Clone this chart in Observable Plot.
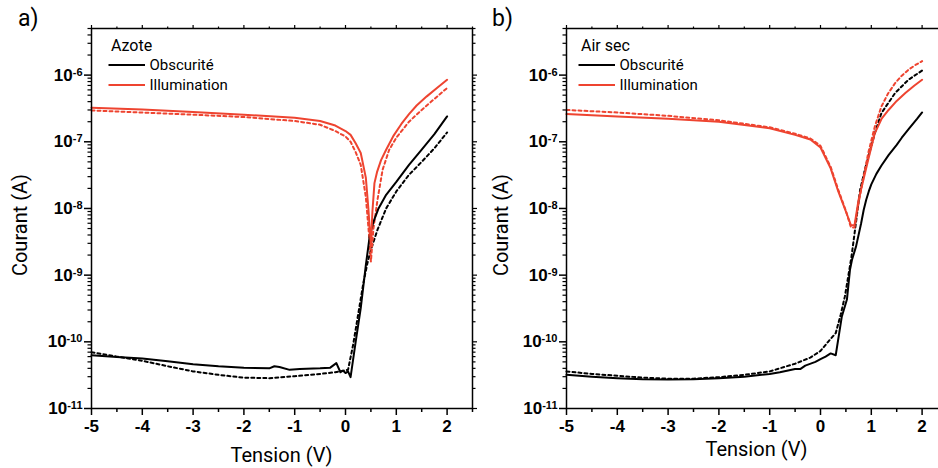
<!DOCTYPE html>
<html><head><meta charset="utf-8">
<script src="https://cdn.jsdelivr.net/npm/d3@7"></script>
<script src="https://cdn.jsdelivr.net/npm/@observablehq/plot@0.6"></script>
<style>
html,body{margin:0;padding:0;background:#fff;}
#wrap{position:relative;width:938px;height:468px;overflow:hidden;background:#fff;}
.panel{position:absolute;top:0;width:473px;height:468px;}
.panel svg{overflow:visible;max-width:none !important;}
</style></head>
<body><div id="wrap"></div>
<script>
// ---- tick values ----
const xMajor = [-5, -4, -3, -2, -1, 0, 1, 2];
const xMinor = [-4.5, -3.5, -2.5, -1.5, -0.5, 0.5, 1.5, 2.5];
const yMajor = [1e-11, 1e-10, 1e-9, 1e-8, 1e-7, 1e-6];
const yMinor = [];
for (let e = -11; e <= -6; e++) for (let k = 2; k <= 9; k++) { const v = k * Math.pow(10, e); if (v <= 5e-6) yMinor.push(v); }

// ---- panel a) Azote ----
const aDarkSolidV = [-5,-4.5,-4,-3.5,-3,-2.5,-2,-1.5,-1.4,-1.3,-1.1,-0.9,-0.5,-0.3,-0.18,-0.1,-0.05,0,0.05,0.1,0.2,0.3,0.4,0.48,0.55,0.65,0.8,1.0,1.25,1.5,1.75,2.0];
const aDarkSolidI = [6.3e-11,5.9e-11,5.6e-11,5.1e-11,4.6e-11,4.3e-11,4.1e-11,4.0e-11,4.3e-11,4.2e-11,3.8e-11,3.9e-11,4.0e-11,4.1e-11,4.8e-11,3.5e-11,3.7e-11,3.4e-11,3.6e-11,2.95e-11,1.0e-10,3.2e-10,1.4e-9,4.0e-9,6.3e-9,1.0e-8,1.6e-8,2.5e-8,4.5e-8,7.6e-8,1.3e-7,2.4e-7];
const aDarkDashV = [-5,-4.5,-4,-3.5,-3,-2.5,-2,-1.5,-1,-0.5,-0.2,0.05,0.15,0.25,0.35,0.43,0.5,0.63,0.8,1.0,1.25,1.5,1.75,2.0];
const aDarkDashI = [7e-11,6e-11,5.2e-11,4.3e-11,3.6e-11,3.2e-11,2.9e-11,2.85e-11,3.05e-11,3.3e-11,3.5e-11,3.8e-11,9e-11,2.6e-10,7.5e-10,1.5e-9,2.4e-9,4.8e-9,1e-8,1.8e-8,3.2e-8,5e-8,8e-8,1.38e-7];
const aLightSolidV = [-5,-4,-3,-2,-1,-0.5,-0.2,0,0.1,0.2,0.3,0.4,0.45,0.5,0.53,0.57,0.62,0.7,0.8,0.95,1.1,1.25,1.4,1.6,1.8,2.0];
const aLightSolidI = [3.25e-7,3.05e-7,2.8e-7,2.55e-7,2.3e-7,2.05e-7,1.75e-7,1.45e-7,1.27e-7,9.5e-8,6.8e-8,2.9e-8,1e-8,2.7e-9,9e-9,2.4e-8,3.5e-8,5.3e-8,7.6e-8,1.25e-7,1.85e-7,2.6e-7,3.5e-7,4.8e-7,6.4e-7,8.5e-7];
const aLightDashV = [-5,-4,-3,-2,-1,-0.5,-0.2,0,0.1,0.2,0.3,0.4,0.46,0.5,0.55,0.63,0.73,0.86,1.0,1.25,1.5,1.75,2.0];
const aLightDashI = [2.95e-7,2.75e-7,2.55e-7,2.35e-7,2.05e-7,1.8e-7,1.45e-7,1.2e-7,1e-7,7e-8,4.5e-8,1.5e-8,4.3e-9,1.6e-9,5e-9,1.35e-8,3.8e-8,7.6e-8,1.15e-7,2e-7,3e-7,4.4e-7,6.4e-7];

// ---- panel b) Air sec ----
const bDarkSolidV = [-5,-4.5,-4,-3.5,-3,-2.5,-2,-1.5,-1,-0.8,-0.5,-0.4,-0.3,-0.1,0,0.1,0.2,0.3,0.42,0.52,0.58,0.62,0.7,0.8,0.85,0.9,0.95,1.0,1.1,1.2,1.34,1.5,1.6,1.75,1.9,2.0];
const bDarkSolidI = [3.2e-11,3.0e-11,2.85e-11,2.75e-11,2.72e-11,2.75e-11,2.85e-11,3.0e-11,3.3e-11,3.5e-11,3.9e-11,3.9e-11,4.4e-11,5.0e-11,5.5e-11,6.0e-11,6.7e-11,6.3e-11,2.4e-10,4.3e-10,1.2e-9,1.7e-9,2.7e-9,6e-9,9.5e-9,1.35e-8,1.8e-8,2.3e-8,3.3e-8,4.4e-8,6.3e-8,9e-8,1.15e-7,1.6e-7,2.2e-7,2.75e-7];
const bDarkDashV = [-5,-4.5,-4,-3.5,-3,-2.5,-2,-1.5,-1,-0.5,-0.2,0,0.15,0.3,0.4,0.48,0.55,0.61,0.68,0.78,0.88,0.98,1.07,1.2,1.47,1.73,2.0];
const bDarkDashI = [3.6e-11,3.3e-11,3.1e-11,2.9e-11,2.8e-11,2.8e-11,2.95e-11,3.2e-11,3.6e-11,4.7e-11,5.8e-11,7.3e-11,1.0e-10,1.35e-10,2.6e-10,4.8e-10,1e-9,1.9e-9,4.8e-9,1.9e-8,4e-8,7.6e-8,1.35e-7,2.7e-7,5.4e-7,8.5e-7,1.17e-6];
const bLightSolidV = [-5,-4,-3,-2,-1,-0.5,-0.2,0,0.2,0.35,0.5,0.6,0.67,0.75,0.81,0.94,1.07,1.2,1.34,1.5,1.67,1.85,2.0];
const bLightSolidI = [2.6e-7,2.4e-7,2.22e-7,2.0e-7,1.6e-7,1.27e-7,1.08e-7,8.2e-8,4e-8,1.8e-8,9e-9,5.6e-9,5.6e-9,1.35e-8,2.1e-8,5.4e-8,1.35e-7,2.2e-7,3e-7,4.1e-7,5.4e-7,7e-7,8.5e-7];
const bLightDashV = [-5,-4,-3,-2,-1,-0.5,-0.2,0,0.2,0.35,0.5,0.6,0.67,0.75,0.81,0.94,1.07,1.2,1.33,1.47,1.6,1.73,1.87,2.0];
const bLightDashI = [3e-7,2.75e-7,2.45e-7,2.1e-7,1.65e-7,1.32e-7,1.12e-7,8.7e-8,4.2e-8,1.9e-8,9.2e-9,5.2e-9,5.2e-9,1.2e-8,2.1e-8,6.8e-8,1.7e-7,3.4e-7,5.3e-7,7.6e-7,9.8e-7,1.2e-6,1.42e-6,1.62e-6];

const legendLabels = ["Obscurité", "Illumination"];
const RED = "#ee4430";
const BLACK = "#000000";

function rows(V, I) { return V.map((v, i) => ({V: v, I: I[i]})); }

function makePanel(cfg) {
  const series = [
    {d: rows(cfg.ds[0], cfg.ds[1]), c: BLACK, dash: "3,3"},
    {d: rows(cfg.ls[0], cfg.ls[1]), c: RED, dash: "3,3"},
    {d: rows(cfg.dk[0], cfg.dk[1]), c: BLACK, dash: null},
    {d: rows(cfg.lt[0], cfg.lt[1]), c: RED, dash: null}
  ];
  const blank = () => "";
  const fmtY = d => "10^" + Math.round(Math.log10(d));
  const plot = Plot.plot({
    width: 473, height: 468,
    marginLeft: 91, marginRight: 1, marginTop: 28, marginBottom: 60,
    style: {fontFamily: "'Liberation Sans', Arial, sans-serif", color: "#000", background: "transparent", overflow: "visible"},
    x: {domain: [-5, 2.5], label: null},
    y: {type: "log", domain: [1e-11, 5e-6], label: null},
    marks: [
      Plot.axisX(xMinor, {anchor: "bottom", tickSize: 4, tickFormat: blank, label: null, strokeWidth: 1.5}),
      Plot.axisX(xMajor, {anchor: "bottom", tickSize: 7, tickPadding: 4, tickFormat: d => String(d), label: null, strokeWidth: 1.5, fontSize: 17, fontWeight: "bold"}),
      Plot.axisX(xMinor, {anchor: "top", tickSize: 2.5, tickFormat: blank, label: null, strokeWidth: 1.2}),
      Plot.axisX(xMajor, {anchor: "top", tickSize: 4, tickFormat: blank, label: null, strokeWidth: 1.2}),
      Plot.axisY(yMinor, {anchor: "left", tickSize: 3.5, tickFormat: blank, label: null, strokeWidth: 1.2}),
      Plot.axisY(yMajor, {anchor: "left", tickSize: 7, tickPadding: 2, tickFormat: fmtY, label: null, strokeWidth: 1.5, fontSize: 17, fontWeight: "bold"}),
      Plot.axisY(yMinor, {anchor: "right", tickSize: 2.5, tickFormat: blank, label: null, strokeWidth: 1.2}),
      Plot.axisY(yMajor, {anchor: "right", tickSize: 4, tickFormat: blank, label: null, strokeWidth: 1.2}),
      ...series.map(s => Plot.line(s.d, {x: "V", y: "I", stroke: s.c, strokeWidth: 2, strokeDasharray: s.dash})),
      Plot.frame({stroke: "#000", strokeWidth: 1.5})
    ]
  });
  const svg = d3.select(plot);
  svg.selectAll("text").each(function() {
    const t = this.textContent;
    const m = /^10\^(-?\d+)$/.exec(t);
    if (m) {
      const el = d3.select(this);
      el.text("10");
      el.append("tspan").attr("dy", "-0.45em").attr("font-size", "11px").text(m[1]);
    }
  });
  const F = "Roboto, 'Open Sans', sans-serif";
  const g = svg.append("g").attr("text-anchor", "start").attr("font-family", F).attr("fill", "#000");
  g.append("text").attr("x", cfg.tagX).attr("y", 26).attr("font-size", 23).text(cfg.tag);
  g.append("text").attr("x", 281.5).attr("y", cfg.xTitleY).attr("text-anchor", "middle").attr("font-size", 20).text("Tension (V)");
  g.append("text").attr("transform", `translate(${cfg.yTitleX},225) rotate(-90)`).attr("text-anchor", "middle").attr("dominant-baseline", "central").attr("font-size", 20).text("Courant (A)");
  const lx = cfg.legX;
  g.append("text").attr("x", lx + 2.5).attr("y", 51).attr("font-size", 16).text(cfg.title);
  [[BLACK, 65], [RED, 85]].forEach(([c, y], i) => {
    g.append("line").attr("x1", lx).attr("x2", lx + 36.5).attr("y1", y).attr("y2", y).attr("stroke", c).attr("stroke-width", 2);
    g.append("text").attr("x", lx + 41).attr("y", y).attr("dominant-baseline", "central").attr("font-size", 15).text(legendLabels[i]);
  });
  const div = document.createElement("div");
  div.className = "panel";
  div.style.left = cfg.left + "px";
  div.appendChild(plot);
  document.getElementById("wrap").appendChild(div);
}

makePanel({left: 0, tag: "a)", tagX: 18, title: "Azote", legX: 108.5, xTitleY: 462, yTitleX: 20,
  dk: [aDarkSolidV, aDarkSolidI], ds: [aDarkDashV, aDarkDashI], lt: [aLightSolidV, aLightSolidI], ls: [aLightDashV, aLightDashI]});
makePanel({left: 475, tag: "b)", tagX: 17, title: "Air sec", legX: 103.5, xTitleY: 456, yTitleX: 26,
  dk: [bDarkSolidV, bDarkSolidI], ds: [bDarkDashV, bDarkDashI], lt: [bLightSolidV, bLightSolidI], ls: [bLightDashV, bLightDashI]});
</script>
</body></html>
